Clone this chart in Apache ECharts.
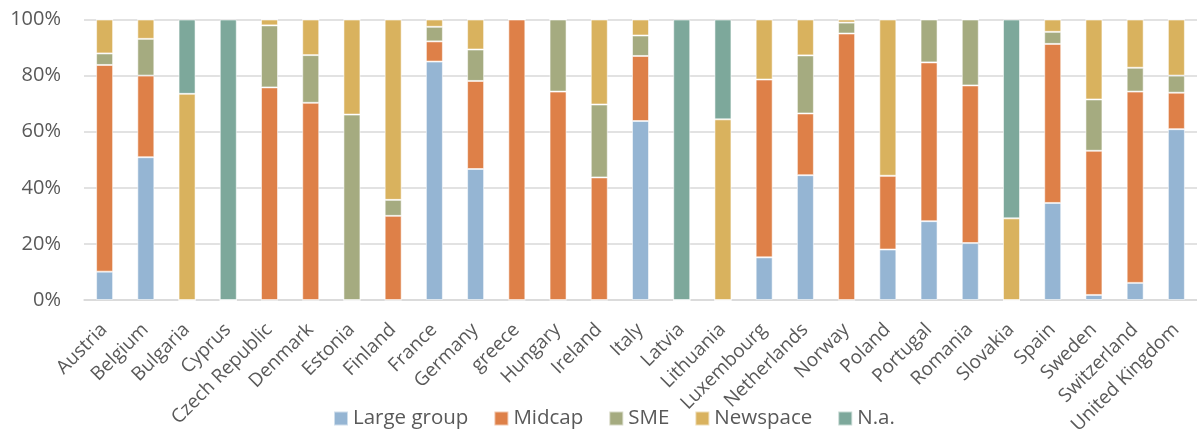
<!DOCTYPE html>
<html><head><meta charset="utf-8">
<script src="https://cdn.jsdelivr.net/npm/echarts@6/dist/echarts.min.js"></script>
<style>html,body{margin:0;padding:0;background:#fff}#c{width:1197px;height:441px}</style>
</head><body><div id="c"></div>
<script>
const categories = ["Austria","Belgium","Bulgaria","Cyprus","Czech Republic","Denmark","Estonia","Finland","France","Germany","greece","Hungary","Ireland","Italy","Latvia","Lithuania","Luxembourg","Netherlands","Norway","Poland","Portugal","Romania","Slovakia","Spain","Sweden","Switzerland","United Kingdom"];
const largeGroup = [10.1,50.9,0,0,0,0,0,0,85.0,46.7,0,0,0,63.8,0,0,15.2,44.5,0,18.0,28.1,20.3,0,34.6,1.8,6.1,60.9];
const midcap     = [73.7,29.1,0,0,75.8,70.3,0,30.0,7.2,31.4,100,74.3,43.7,23.2,0,0,63.4,22.0,95.0,26.3,56.6,56.2,0,56.7,51.4,68.2,13.0];
const sme        = [4.1,13.1,0,0,22.1,17.0,66.1,5.7,5.2,11.2,0,25.7,26.0,7.3,0,0,0,20.7,3.9,0,15.3,23.5,0,4.3,18.3,8.5,6.1];
const newspace   = [12.1,6.9,73.5,0,2.1,12.7,33.9,64.3,2.6,10.7,0,0,30.3,5.7,0,64.4,21.4,12.8,1.1,55.7,0,0,29.1,4.4,28.5,17.2,20.0];
const na         = [0,0,26.5,100,0,0,0,0,0,0,0,0,0,0,100,35.6,0,0,0,0,0,0,70.9,0,0,0,0];
const yTicks = [0,20,40,60,80,100];

const font = "'Open Sans', 'Liberation Sans', sans-serif";
const txt = '#595959';
function s(name, data, color){
  return {name, type:'bar', stack:'all', data, barWidth:17,
    itemStyle:{color, borderColor:'rgba(255,255,255,0.55)', borderWidth:1},
    emphasis:{disabled:true}};
}
const chart = echarts.init(document.getElementById('c'), null, {renderer:'canvas'});
chart.setOption({
  animation:false,
  grid:{left:84, right:0, top:19.5, bottom:141, containLabel:false},
  legend:{bottom:7, left:328, itemWidth:14, itemHeight:14, itemGap:25,
    icon:'rect', textStyle:{fontFamily:font, fontSize:20.5, color:txt},
    data:['Large group','Midcap','SME','Newspace','N.a.']},
  xAxis:{type:'category', data:categories,
    axisLine:{lineStyle:{color:'#D9D9D9', width:1.5}}, axisTick:{show:false},
    axisLabel:{rotate:45, interval:0, margin:13, align:'right', verticalAlign:'top',
      padding:[0,10,0,0], fontFamily:font, fontSize:19, color:txt}},
  yAxis:{type:'value', min:0, max:100, interval:20,
    axisLabel:{formatter:v=>yTicks.includes(v)?v+'%':'', fontFamily:font, fontSize:20, color:txt, margin:23},
    splitLine:{lineStyle:{color:'#D9D9D9', width:1.5}}, axisLine:{show:false}, axisTick:{show:false}},
  series:[
    s('Large group', largeGroup, '#95B5D3'),
    s('Midcap', midcap, '#DE8048'),
    s('SME', sme, '#A5AB80'),
    s('Newspace', newspace, '#D9B25E'),
    s('N.a.', na, '#7DA89B')
  ]
});
</script></body></html>
